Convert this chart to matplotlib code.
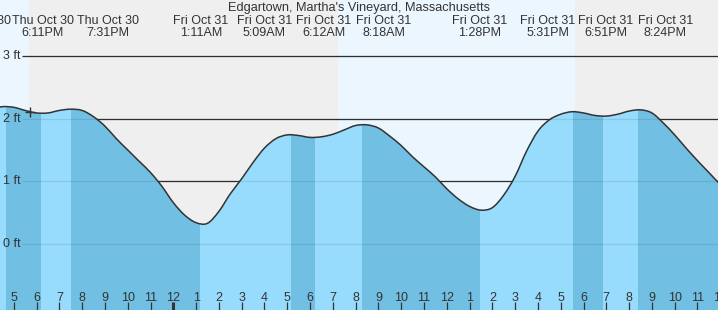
import numpy as np
import matplotlib.pyplot as plt
import matplotlib.transforms as mtransforms
from matplotlib.path import Path
from matplotlib.patches import PathPatch

plt.rcParams['font.family'] = ['Liberation Sans', 'DejaVu Sans']

# time in hours from Fri Oct 31 00:00, tide height in ft
hours = [-8.0, -7.5, -7.0, -6.5, -6.0, -5.5, -5.0, -4.5, -4.0, -3.5, -3.0, -2.5,
         -2.0, -1.5, -1.0, -0.5, 0.0, 0.5, 1.0, 1.5, 2.0, 2.5, 3.0, 3.5,
         4.0, 4.5, 5.0, 5.5, 6.0, 6.5, 7.0, 7.5, 8.0, 8.5, 9.0, 9.5,
         10.0, 10.5, 11.0, 11.5, 12.0, 12.5, 13.0, 13.5, 14.0, 14.5, 15.0, 15.5,
         16.0, 16.5, 17.0, 17.5, 18.0, 18.5, 19.0, 19.5, 20.0, 20.5, 21.0, 21.5,
         22.0, 22.5, 23.0, 23.5, 24.0, 24.5]
heights = [2.15, 2.19, 2.18, 2.13, 2.09, 2.09, 2.13, 2.15, 2.13, 2.03, 1.88, 1.68,
           1.50, 1.32, 1.14, 0.92, 0.66, 0.46, 0.34, 0.33, 0.52, 0.80, 1.04, 1.30,
           1.53, 1.68, 1.74, 1.73, 1.70, 1.71, 1.75, 1.82, 1.89, 1.90, 1.85, 1.72,
           1.57, 1.39, 1.23, 1.07, 0.88, 0.72, 0.60, 0.54, 0.58, 0.78, 1.08, 1.48,
           1.80, 1.98, 2.07, 2.11, 2.09, 2.05, 2.04, 2.07, 2.12, 2.14, 2.09, 1.93,
           1.74, 1.53, 1.33, 1.14, 0.95, 0.78]

# tide / moon events shown across the top
event_days = ['Thu Oct 30', 'Thu Oct 30', 'Thu Oct 30', 'Fri Oct 31', 'Fri Oct 31',
              'Fri Oct 31', 'Fri Oct 31', 'Fri Oct 31', 'Fri Oct 31', 'Fri Oct 31',
              'Fri Oct 31']
event_times = ['4:39PM', '6:11PM', '7:31PM', '1:11AM', '5:09AM', '6:12AM',
               '8:18AM', '1:28PM', '5:31PM', '6:51PM', '8:24PM']
event_hours = [-7.35, -5.817, -4.483, 1.183, 5.15, 6.2, 8.3, 13.467, 17.517,
               18.85, 20.4]
# label centres in pixels (labels are pushed apart so they don't overlap)
label_px = [-20, 43, 108, 201, 264.5, 324, 384, 479.5, 548, 606, 665.5]

# sunset / sunrise
sun_hours = [-6.33, 7.22, 17.63]

now_hour = -6.29
now_height = 2.11

levels = [0, 1, 2, 3]
W, H = 718, 310
px_per_hr = 22.79
x0 = 173.3  # pixel of midnight


def px2h(px):
    return (px - x0) / px_per_hr


xmin, xmax = px2h(0), px2h(W)
ft_px = 62.7
ymin, ymax = (244 - H) / ft_px, 244 / ft_px


def py2f(py):
    return 1 - py / H


def smooth_path(xs, ys):
    # catmull-rom through the readings, drawn as cubic beziers
    p = np.column_stack([xs, ys])
    verts = [p[0]]
    codes = [Path.MOVETO]
    n = len(p)
    for i in range(n - 1):
        a = p[i - 1] if i > 0 else p[i]
        b = p[i + 2] if i + 2 < n else p[i + 1]
        c1 = p[i] + (p[i + 1] - a) / 6
        c2 = p[i + 1] - (b - p[i]) / 6
        verts += [c1, c2, p[i + 1]]
        codes += [Path.CURVE4] * 3
    return verts, codes


txt = '#333333'
day_bg = '#ecf6fe'
night_bg = '#efefef'
light = '#97dcfc'
dark = '#71c0e4'

fig = plt.figure(figsize=(W / 100, H / 100), dpi=100)
ax = fig.add_axes([0, 0, 1, 1])
ax.set_axis_off()
ax.set_xlim(xmin, xmax)
ax.set_ylim(ymin, ymax)

# day / night background
edges = [xmin - 1] + sun_hours + [xmax + 1]
for i in range(len(edges) - 1):
    ax.axvspan(edges[i], edges[i + 1], color=day_bg if i % 2 == 0 else night_bg,
               lw=0, zorder=0)

gx = px2h(22)
ax.hlines(levels, gx, xmax + 1, color='#333333', lw=0.9, zorder=1)

verts, codes = smooth_path(hours, heights)
line_path = Path(verts, codes)
fill_path = Path(verts + [(hours[-1], ymin - 1), (hours[0], ymin - 1), verts[0]],
                 codes + [Path.LINETO, Path.LINETO, Path.CLOSEPOLY])

# water fill, banded between events
bedges = [xmin - 1] + event_hours + [xmax + 1]
for i in range(len(bedges) - 1):
    sp = ax.axvspan(bedges[i], bedges[i + 1], color=light if i % 2 == 0 else dark,
                    lw=0, zorder=2)
    sp.set_clip_path(fill_path, ax.transData)

ax.hlines(levels, gx, xmax + 1, color=(0, 0, 0, 0.09), lw=0.9, zorder=3)
ax.add_patch(PathPatch(line_path, facecolor='none', edgecolor='#333333', lw=1.1,
                       zorder=4))
ax.plot([now_hour], [now_height], marker='+', ms=7, mew=1, color='#333333', zorder=5)

# y labels
for lv in levels:
    ax.text(px2h(3), lv, '%d ft' % lv, ha='left', va='center', fontsize=9,
            color=txt, zorder=6)

trans = mtransforms.blended_transform_factory(ax.transData, ax.transAxes)

# hour ticks along the bottom
for h in range(-7, 25):
    lab = h % 12
    if lab == 0:
        lab = 12
    w = 2.2 if h % 24 == 0 else 0.9
    ax.plot([h, h], [0, py2f(302)], color='#333333', lw=w, transform=trans,
            solid_capstyle='butt', zorder=6)
    ax.text(h, py2f(300.7), str(lab), ha='center', va='baseline', fontsize=9,
            color=txt, transform=trans, zorder=6)

# event labels
for d, t, p in zip(event_days, event_times, label_px):
    ax.text(px2h(p), py2f(24), d, ha='center', va='baseline', fontsize=9,
            color=txt, transform=trans, zorder=6)
    ax.text(px2h(p), py2f(36), t, ha='center', va='baseline', fontsize=9,
            color=txt, transform=trans, zorder=6)

ax.text(0.5, py2f(11), "Edgartown, Martha's Vineyard, Massachusetts", ha='center',
        va='baseline', fontsize=9.2, color=txt, transform=ax.transAxes, zorder=6)

fig.savefig('out.png', dpi=100)
